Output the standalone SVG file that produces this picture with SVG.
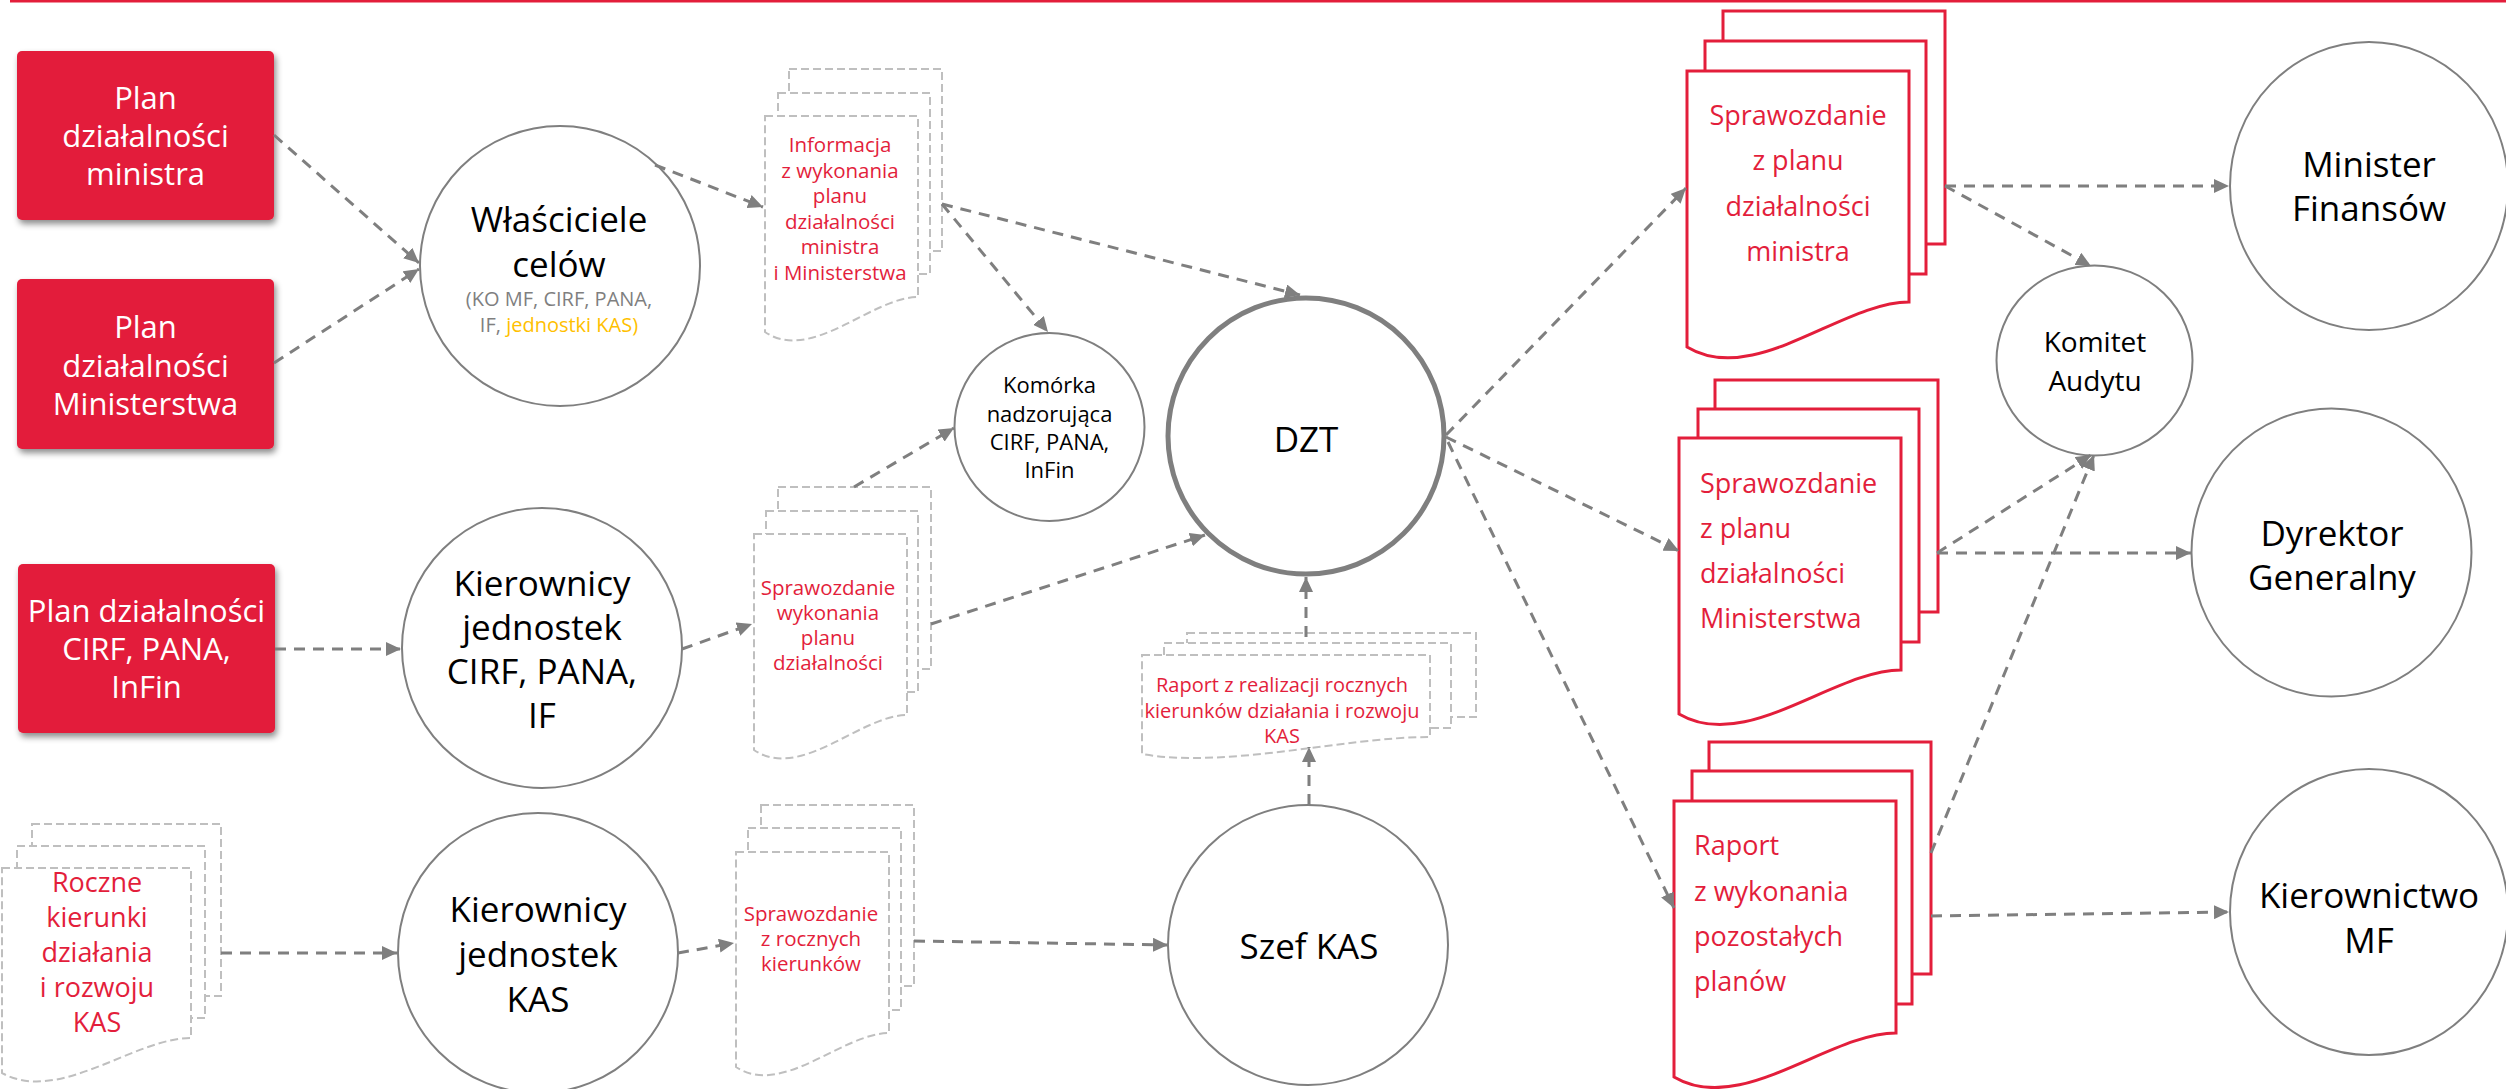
<svg xmlns="http://www.w3.org/2000/svg" width="2506" height="1089" viewBox="0 0 2506 1089">
<style>
.box{fill:#E31E3B}
.bt{fill:#fff;font-family:'Open Sans',sans-serif;font-size:31px;text-anchor:middle}
.node{fill:#fff;stroke:#7F7F7F;stroke-width:2}
.dzt{fill:#fff;stroke:#7F7F7F;stroke-width:5}
.nt{fill:#000;font-family:'Open Sans',sans-serif;font-size:35px;text-anchor:middle}
.gdoc{fill:#fff;stroke:#BFBFBF;stroke-width:2;stroke-dasharray:8 4}
.rdoc{fill:#fff;stroke:#E31E3B;stroke-width:3}
.dt{fill:#E31E3B;font-family:'Open Sans',sans-serif;font-size:20.5px;text-anchor:middle}
.dtl{fill:#E31E3B;font-family:'Open Sans',sans-serif;font-size:27px}
.conn{fill:none;stroke:#7F7F7F;stroke-width:3;stroke-dasharray:11 8;marker-end:url(#ah)}
</style>
<defs>
<marker id="ah" markerUnits="userSpaceOnUse" viewBox="0 0 15 14" markerWidth="15" markerHeight="14" refX="15" refY="7" orient="auto">
<path d="M0,0 L15,7 L0,14 Z" fill="#7F7F7F"/>
</marker>
<filter id="sh" x="-10%" y="-10%" width="130%" height="130%">
<feDropShadow dx="2" dy="4" stdDeviation="3" flood-color="#000" flood-opacity="0.45"/>
</filter>
</defs>
<rect x="10" y="0" width="2496" height="2.5" fill="#E31E3B"/>

<g id="box-plan-ministra">
<rect class="box" x="17" y="51" width="257" height="169" rx="5" filter="url(#sh)"/>
<text class="bt"><tspan x="145.5" y="109">Plan</tspan><tspan x="145.5" y="147">działalności</tspan><tspan x="145.5" y="185">ministra</tspan></text>
</g>
<g id="box-plan-ministerstwa">
<rect class="box" x="17" y="279" width="257" height="170" rx="5" filter="url(#sh)"/>
<text class="bt"><tspan x="145.5" y="338">Plan</tspan><tspan x="145.5" y="377">działalności</tspan><tspan x="145.5" y="415">Ministerstwa</tspan></text>
</g>
<g id="box-plan-cirf">
<rect class="box" x="18" y="564" width="257" height="169" rx="5" filter="url(#sh)"/>
<text class="bt"><tspan x="146.5" y="622">Plan działalności</tspan><tspan x="146.5" y="660">CIRF, PANA,</tspan><tspan x="146.5" y="698">InFin</tspan></text>
</g>

<g id="doc-roczne">
<rect class="gdoc" x="32" y="824" width="189" height="172"/>
<rect class="gdoc" x="17" y="846" width="188" height="172"/>
<path class="gdoc" d="M2,868 H191 V1038 C134,1038 59,1104.5 2,1073 Z"/>
<text class="dt" style="font-size:27px"><tspan x="97" y="892">Roczne</tspan><tspan x="97" y="927">kierunki</tspan><tspan x="97" y="962">działania</tspan><tspan x="97" y="997">i rozwoju</tspan><tspan x="97" y="1032">KAS</tspan></text>
</g>

<g id="node-wlasciciele">
<circle class="node" cx="560" cy="266" r="140"/>
<text class="nt"><tspan x="559" y="232">Właściciele</tspan><tspan x="559" y="277">celów</tspan></text>
<text class="nt" style="font-size:20px;fill:#7F7F7F"><tspan x="559" y="306">(KO MF, CIRF, PANA,</tspan><tspan x="559" y="332">IF, <tspan fill="#FFC000">jednostki KAS)</tspan></tspan></text>
</g>
<g id="node-kier-cirf">
<circle class="node" cx="542" cy="648" r="140"/>
<text class="nt"><tspan x="542" y="596">Kierownicy</tspan><tspan x="542" y="640">jednostek</tspan><tspan x="542" y="684">CIRF, PANA,</tspan><tspan x="542" y="728">IF</tspan></text>
</g>
<g id="node-kier-kas">
<circle class="node" cx="538" cy="953" r="140"/>
<text class="nt"><tspan x="538" y="922">Kierownicy</tspan><tspan x="538" y="967">jednostek</tspan><tspan x="538" y="1012">KAS</tspan></text>
</g>

<g id="doc-informacja">
<rect class="gdoc" x="789" y="69" width="153" height="182"/>
<rect class="gdoc" x="778" y="93" width="152" height="181"/>
<path class="gdoc" d="M765,116 H918 V297 C872,297 811,363.5 765,332 Z"/>
<text class="dt"><tspan x="840" y="152">Informacja</tspan><tspan x="840" y="177.5">z wykonania</tspan><tspan x="840" y="203">planu</tspan><tspan x="840" y="228.5">działalności</tspan><tspan x="840" y="254">ministra</tspan><tspan x="840" y="279.5">i Ministerstwa</tspan></text>
</g>
<g id="doc-spr-wykonania">
<rect class="gdoc" x="778" y="487" width="153" height="182"/>
<rect class="gdoc" x="766" y="511" width="152" height="181"/>
<path class="gdoc" d="M754,534 H907 V715 C861,715 800,781.5 754,750 Z"/>
<text class="dt"><tspan x="828" y="595">Sprawozdanie</tspan><tspan x="828" y="620">wykonania</tspan><tspan x="828" y="645">planu</tspan><tspan x="828" y="670">działalności</tspan></text>
</g>
<g id="doc-spr-rocznych">
<rect class="gdoc" x="761" y="805" width="153" height="181"/>
<rect class="gdoc" x="748" y="828" width="153" height="182"/>
<path class="gdoc" d="M736,852 H889 V1033 C843,1033 782,1097.6 736,1067 Z"/>
<text class="dt"><tspan x="811" y="921">Sprawozdanie</tspan><tspan x="811" y="946">z rocznych</tspan><tspan x="811" y="971">kierunków</tspan></text>
</g>

<g id="node-komorka">
<ellipse class="node" cx="1049.5" cy="427" rx="95" ry="94"/>
<text class="nt" style="font-size:22px"><tspan x="1049.5" y="393">Komórka</tspan><tspan x="1049.5" y="422">nadzorująca</tspan><tspan x="1049.5" y="450">CIRF, PANA,</tspan><tspan x="1049.5" y="478">InFin</tspan></text>
</g>
<g id="node-dzt">
<circle class="dzt" cx="1306" cy="436" r="138"/>
<text class="nt" x="1306" y="452">DZT</text>
</g>
<g id="doc-raport-realizacji">
<rect class="gdoc" x="1187" y="633" width="289" height="84"/>
<rect class="gdoc" x="1164" y="643" width="287" height="85"/>
<path class="gdoc" d="M1142,655 H1430 V737 C1344,737 1228,769 1142,754 Z"/>
<text class="dt" style="font-size:20px"><tspan x="1282" y="692">Raport z realizacji rocznych</tspan><tspan x="1282" y="718">kierunków działania i rozwoju</tspan><tspan x="1282" y="743">KAS</tspan></text>
</g>
<g id="node-szef-kas">
<circle class="node" cx="1308" cy="945" r="140"/>
<text class="nt" x="1309" y="959">Szef KAS</text>
</g>

<g id="doc-spr-ministra">
<rect class="rdoc" x="1723" y="11" width="222" height="233"/>
<rect class="rdoc" x="1705" y="41" width="221" height="233"/>
<path class="rdoc" d="M1687,71 H1909 V302 C1842,302 1754,387.5 1687,347 Z"/>
<text class="dtl" style="text-anchor:middle"><tspan x="1798" y="125">Sprawozdanie</tspan><tspan x="1798" y="170">z planu</tspan><tspan x="1798" y="216">działalności</tspan><tspan x="1798" y="261">ministra</tspan></text>
</g>
<g id="doc-spr-ministerstwa">
<rect class="rdoc" x="1715" y="380" width="223" height="232"/>
<rect class="rdoc" x="1698" y="409" width="221" height="233"/>
<path class="rdoc" d="M1679,438 H1901 V670 C1834,670 1746,753.6 1679,714 Z"/>
<text class="dtl"><tspan x="1700" y="493">Sprawozdanie</tspan><tspan x="1700" y="538">z planu</tspan><tspan x="1700" y="583">działalności</tspan><tspan x="1700" y="628">Ministerstwa</tspan></text>
</g>
<g id="doc-raport-wykonania">
<rect class="rdoc" x="1709" y="742" width="222" height="232"/>
<rect class="rdoc" x="1692" y="771" width="220" height="233"/>
<path class="rdoc" d="M1674,801 H1896 V1033 C1829,1033 1741,1116.6 1674,1077 Z"/>
<text class="dtl"><tspan x="1694" y="855">Raport</tspan><tspan x="1694" y="901">z wykonania</tspan><tspan x="1694" y="946">pozostałych</tspan><tspan x="1694" y="991">planów</tspan></text>
</g>

<g id="node-komitet">
<ellipse class="node" cx="2094.5" cy="360.5" rx="98" ry="95"/>
<text class="nt" style="font-size:28px"><tspan x="2095" y="352">Komitet</tspan><tspan x="2095" y="391">Audytu</tspan></text>
</g>
<g id="node-minister">
<ellipse class="node" cx="2369" cy="186" rx="139" ry="144"/>
<text class="nt"><tspan x="2369" y="177">Minister</tspan><tspan x="2369" y="221">Finansów</tspan></text>
</g>
<g id="node-dyrektor">
<ellipse class="node" cx="2331.5" cy="552.5" rx="140" ry="144"/>
<text class="nt"><tspan x="2332" y="546">Dyrektor</tspan><tspan x="2332" y="590">Generalny</tspan></text>
</g>
<g id="node-kierownictwo">
<ellipse class="node" cx="2369" cy="912" rx="139" ry="143"/>
<text class="nt"><tspan x="2369" y="908">Kierownictwo</tspan><tspan x="2369" y="953">MF</tspan></text>
</g>

<g id="connectors">
<line class="conn" x1="274" y1="135" x2="419" y2="263"/>
<line class="conn" x1="274" y1="363" x2="419" y2="269"/>
<line class="conn" x1="275" y1="649" x2="401" y2="649"/>
<line class="conn" x1="221" y1="953" x2="397" y2="953"/>
<line class="conn" x1="655" y1="165" x2="763" y2="207"/>
<line class="conn" x1="942" y1="204" x2="1300" y2="295"/>
<line class="conn" x1="942" y1="204" x2="1048" y2="332"/>
<line class="conn" x1="682" y1="649" x2="752" y2="624"/>
<line class="conn" x1="854" y1="487" x2="954" y2="428"/>
<line class="conn" x1="931" y1="624" x2="1205" y2="535"/>
<line class="conn" x1="1306" y1="637" x2="1306" y2="577"/>
<line class="conn" x1="1309" y1="805" x2="1309" y2="747"/>
<line class="conn" x1="678" y1="953" x2="734" y2="943"/>
<line class="conn" x1="914" y1="941" x2="1168" y2="945"/>
<line class="conn" x1="1446" y1="435" x2="1686" y2="188"/>
<line class="conn" x1="1446" y1="437" x2="1679" y2="551"/>
<line class="conn" x1="1448" y1="442" x2="1674" y2="908"/>
<line class="conn" x1="1945" y1="186" x2="2229" y2="186"/>
<line class="conn" x1="1945" y1="186" x2="2091" y2="266"/>
<line class="conn" x1="1937" y1="553" x2="2191" y2="553"/>
<line class="conn" x1="1937" y1="553" x2="2091" y2="455"/>
<line class="conn" x1="1931" y1="853" x2="2094" y2="455"/>
<line class="conn" x1="1931" y1="916" x2="2229" y2="912"/>
</g>
</svg>
